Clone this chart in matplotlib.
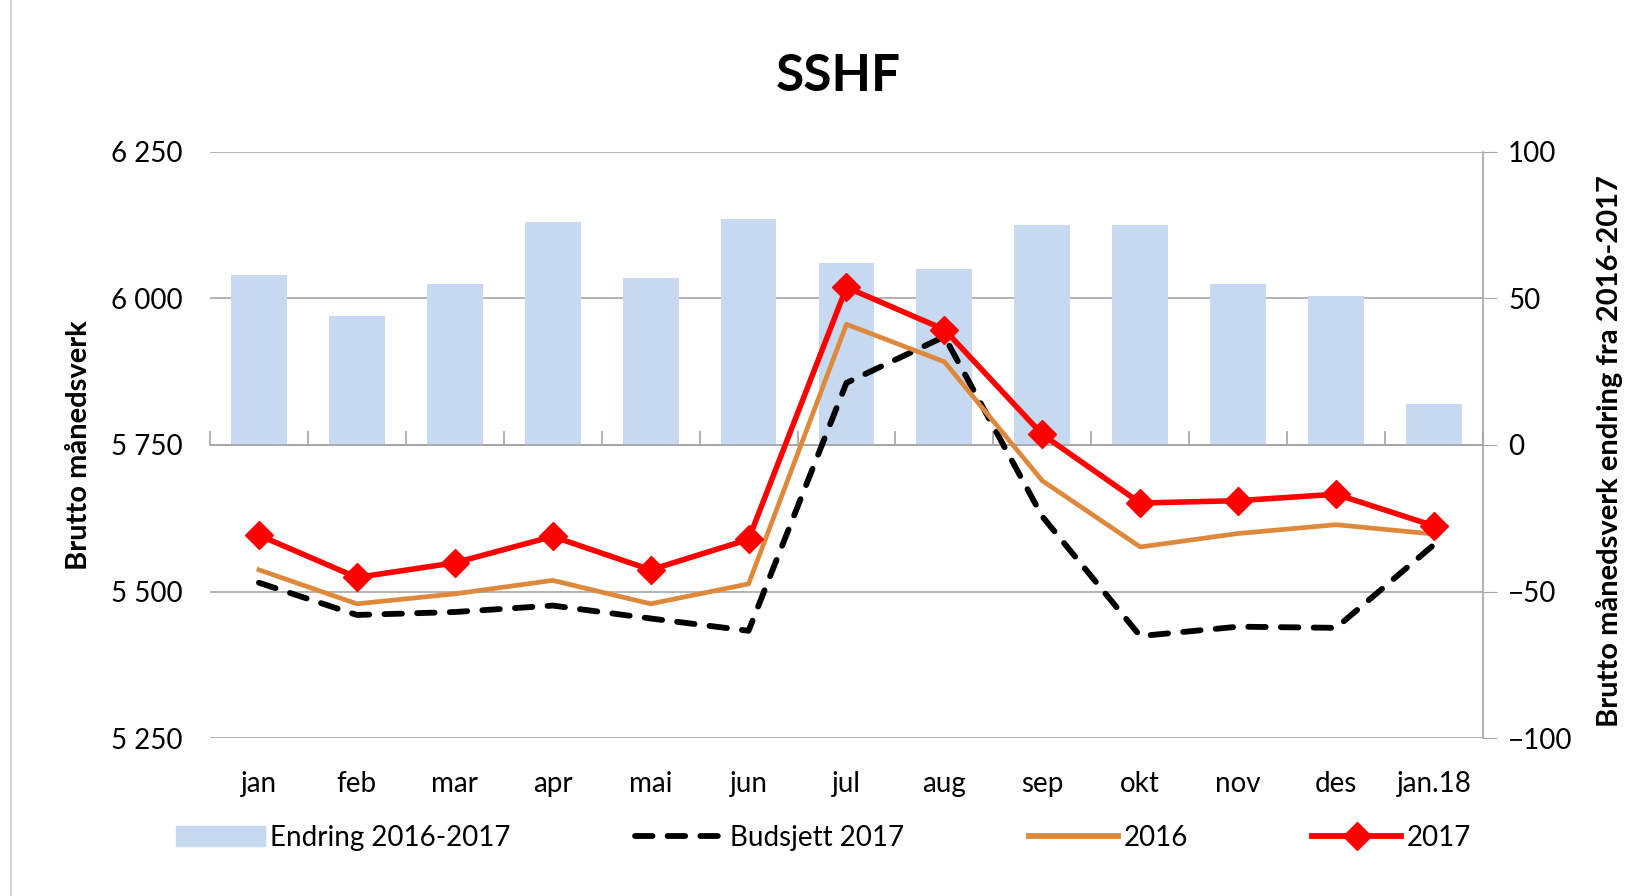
import numpy as np
import matplotlib
matplotlib.use("Agg")
import matplotlib.pyplot as plt
from matplotlib.ticker import FuncFormatter
from matplotlib.lines import Line2D
from matplotlib.patches import Patch

plt.rcParams['font.family'] = ['Lato', 'DejaVu Sans']

months = ['jan', 'feb', 'mar', 'apr', 'mai', 'jun', 'jul', 'aug', 'sep', 'okt', 'nov', 'des', 'jan.18']
endring = [58, 44, 55, 76, 57, 77, 62, 60, 75, 75, 55, 51, 14]
budsjett_2017 = [5515, 5460, 5465, 5476, 5454, 5433, 5856, 5935, 5628, 5424, 5440, 5438, 5580]
aar_2016 = [5537, 5479, 5496, 5519, 5479, 5513, 5956, 5892, 5689, 5576, 5599, 5614, 5598]
aar_2017 = [5596, 5524, 5549, 5594, 5537, 5589, 6019, 5947, 5768, 5651, 5655, 5666, 5612]

x = np.arange(len(months))
grid_col = '#A6A6A6'
dash = (0, (3.0, 2.6))

fig = plt.figure(figsize=(16.47, 8.96), dpi=100)
ax2 = fig.add_axes([0.1275, 0.1763, 0.7729, 0.6541])
ax = ax2.twinx()

# bars on the right-hand axis, behind everything
ax2.bar(x, endring, width=0.57, color='#C6D9F1', zorder=2)
ax2.set_ylim(-100, 100)
ax2.set_yticks([-100, -50, 0, 50, 100])
ax2.yaxis.tick_right()
ax2.yaxis.set_label_position('right')
ax2.grid(axis='y', color=grid_col, lw=1.2, zorder=0)
ax2.set_axisbelow(True)
ax2.tick_params(axis='y', direction='out', length=10, color=grid_col, labelsize=20, pad=8)
ax2.tick_params(axis='x', length=0, labelsize=20, pad=24)
ax2.set_xticks(x)
ax2.set_xticklabels(months)
for s in ['top', 'left', 'bottom']:
    ax2.spines[s].set_visible(False)
ax2.spines['right'].set_color(grid_col)
ax2.spines['right'].set_linewidth(1.2)
ax2.set_ylabel('Brutto månedsverk endring fra 2016-2017', fontsize=21, fontweight='bold')
ax2.yaxis.set_label_coords(1.089, 0.49)

# lines on the left-hand axis
ax.set_zorder(ax2.get_zorder() + 1)
ax.patch.set_visible(False)
ax.plot(x, budsjett_2017, color='black', lw=4.2, ls=dash, dash_capstyle='round', zorder=3)
ax.plot(x, aar_2016, color='#DE883C', lw=3.4, zorder=4)
ax.plot(x, aar_2017, color='#FF0000', lw=4.0, marker='D', markersize=14, zorder=5)
ax.set_ylim(5250, 6250)
ax.set_yticks([5250, 5500, 5750, 6000, 6250])
ax.yaxis.tick_left()
ax.yaxis.set_label_position('left')
ax.yaxis.set_major_formatter(FuncFormatter(lambda v, p: f'{int(v):,}'.replace(',', ' ')))
ax.tick_params(axis='y', length=0, labelsize=20, pad=20)
for s in ['top', 'left', 'bottom', 'right']:
    ax.spines[s].set_visible(False)
ax.set_ylabel('Brutto månedsverk', fontsize=21, fontweight='bold')
ax.yaxis.set_label_coords(-0.093, 0.5)
ax.set_xlim(-0.5, len(months) - 0.5)

# category axis sits at zero change / 5 750
cat = ax.secondary_xaxis(0.5)
cat.set_xticks(np.arange(len(months) + 1) - 0.5)
cat.set_xticklabels([])
cat.tick_params(direction='out', length=10, color=grid_col, width=1.2)
for s in cat.spines.values():
    s.set_color(grid_col)
    s.set_linewidth(1.2)

fig.text(0.509, 0.915, 'SSHF', fontsize=37, fontweight='bold', ha='center', va='center')

handles = [
    Patch(color='#C6D9F1'),
    Line2D([], [], color='black', lw=4.2, ls=dash, dash_capstyle='round'),
    Line2D([], [], color='#DE883C', lw=4.2),
    Line2D([], [], color='#FF0000', lw=4.2, marker='D', markersize=14),
]
labels = ['Endring 2016-2017', 'Budsjett 2017', '2016', '2017']
fig.legend(handles, labels, loc='center', ncol=4, mode='expand', frameon=False,
           bbox_to_anchor=(0.10, 0.035, 0.80, 0.06), fontsize=20, handlelength=3.2,
           handletextpad=0.2, borderaxespad=0)

fig.add_artist(Line2D([0.0067, 0.0067], [0, 1], color='#C8C8C8', lw=1.2))

fig.savefig('out.png', dpi=100)
